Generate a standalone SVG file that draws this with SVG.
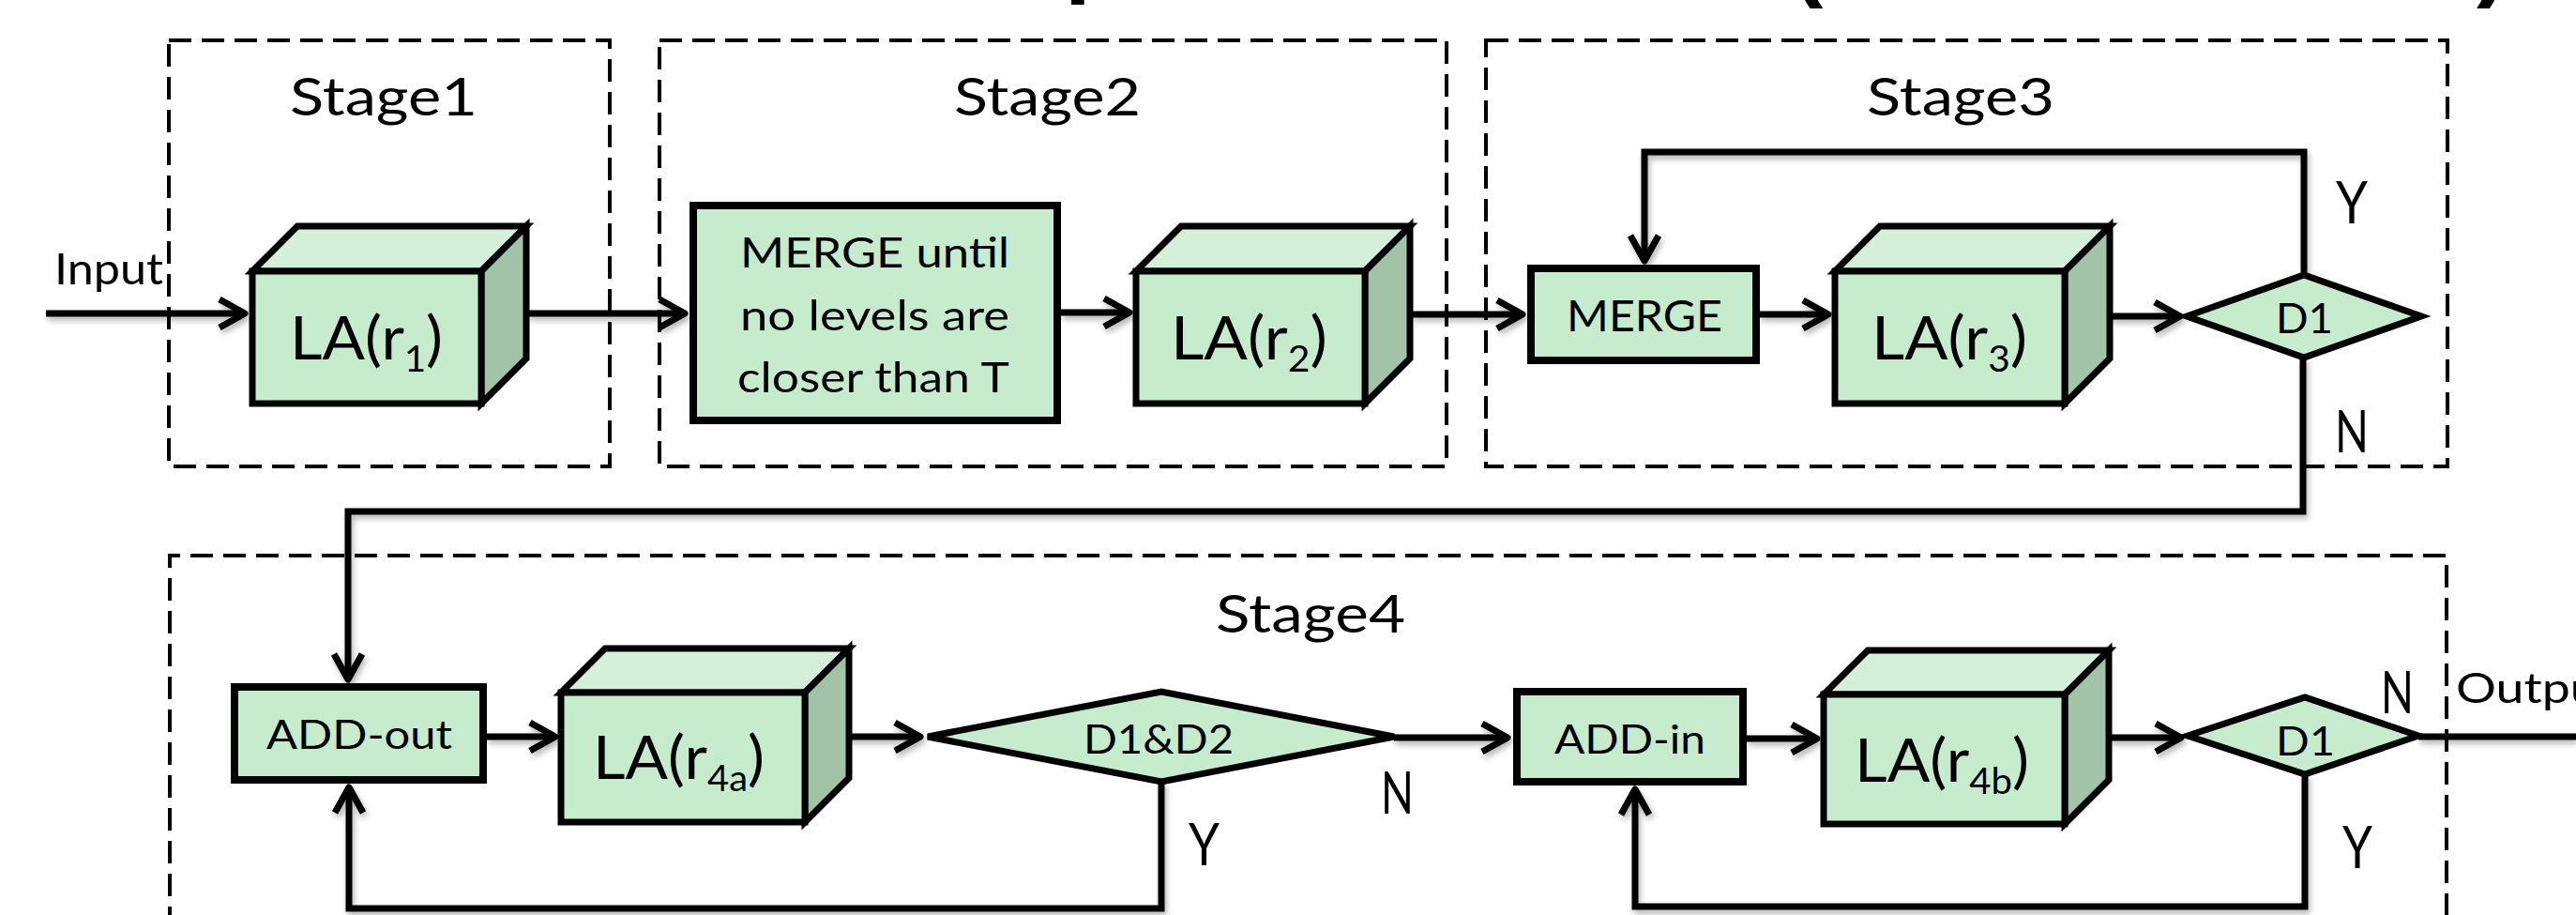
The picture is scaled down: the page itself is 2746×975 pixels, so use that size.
<svg xmlns="http://www.w3.org/2000/svg" width="2746" height="975" viewBox="0 0 2746 975">
  <defs>
    <style>
      .stage { fill: none; stroke: #000; stroke-width: 4; stroke-dasharray: 24 11; }
      .box { fill: #C6EBCD; stroke: #000; stroke-width: 8; }
      .dec { fill: #C6EBCD; stroke: #000; stroke-width: 7; stroke-linejoin: miter; }
      .front { fill: #C6EBCD; stroke: #000; stroke-width: 7; }
      .top { fill: #D4F0DA; stroke: #000; stroke-width: 7; stroke-linejoin: miter; }
      .side { fill: #A2C3A8; stroke: #000; stroke-width: 7; stroke-linejoin: miter; }
      .wire { fill: none; stroke: #000; stroke-width: 7; stroke-linejoin: miter; }
      .t { font-family: Lato, "Liberation Sans", sans-serif; fill: #000; }
      .title { font-family: "Liberation Sans", sans-serif; font-weight: bold; font-size: 100px; fill: #000; }
    </style>
    <marker id="arrow" markerUnits="userSpaceOnUse" viewBox="-34 -20 40 40" refX="0" refY="0" markerWidth="40" markerHeight="40" orient="auto" overflow="visible">
      <path d="M-27,-15 L0,0 L-27,15" fill="none" stroke="#000" stroke-width="7" stroke-linejoin="round" stroke-linecap="butt"/>
    </marker>
    <filter id="shadow" x="-5%" y="-20%" width="110%" height="140%">
      <feDropShadow dx="2" dy="4" stdDeviation="3" flood-color="#000" flood-opacity="0.3"/>
    </filter>
  </defs>

  <rect x="0" y="0" width="2746" height="975" fill="#fff"/>

  <!-- tail ends of the heading above the frame -->
  <text class="title" x="1135" y="-16">p</text>
  <text class="title" x="1910" y="-12">(</text>
  <text class="title" x="2640" y="-12">)</text>

  <!-- stage frames -->
  <g id="stages">
    <g id="stage1">
      <rect class="stage" x="180" y="43" width="470" height="454"/>
      <text class="t" x="309" y="123" font-size="56" textLength="200" lengthAdjust="spacingAndGlyphs">Stage1</text>
    </g>
    <g id="stage2">
      <rect class="stage" x="703" y="43" width="839" height="454"/>
      <text class="t" x="1017" y="123" font-size="56" textLength="199" lengthAdjust="spacingAndGlyphs">Stage2</text>
    </g>
    <g id="stage3">
      <rect class="stage" x="1584" y="43" width="1025" height="454"/>
      <text class="t" x="1990" y="123" font-size="56" textLength="200" lengthAdjust="spacingAndGlyphs">Stage3</text>
    </g>
    <g id="stage4">
      <path class="stage" d="M181,990 V592 H2608 V990"/>
      <text class="t" x="1296" y="674" font-size="56" textLength="202" lengthAdjust="spacingAndGlyphs">Stage4</text>
    </g>
  </g>

  <!-- connectors -->
  <g id="connectors" filter="url(#shadow)">
    <path class="wire" d="M49,334 H261" marker-end="url(#arrow)"/>
    <path class="wire" d="M562,334 H730" marker-end="url(#arrow)"/>
    <path class="wire" d="M1131,333 H1204" marker-end="url(#arrow)"/>
    <path class="wire" d="M1504,335 H1623" marker-end="url(#arrow)"/>
    <path class="wire" d="M1876,335 H1949" marker-end="url(#arrow)"/>
    <path class="wire" d="M2249,337 H2324" marker-end="url(#arrow)"/>
    <path class="wire" d="M2456,293 V162 H1753 V278" marker-end="url(#arrow)"/>
    <path class="wire" d="M2455,381 V545 H371 V724" marker-end="url(#arrow)"/>
    <path class="wire" d="M519,785 H592" marker-end="url(#arrow)"/>
    <path class="wire" d="M904,785 H981" marker-end="url(#arrow)"/>
    <path class="wire" d="M1486,786 H1607" marker-end="url(#arrow)"/>
    <path class="wire" d="M1238,833 V968 H372 V839" marker-end="url(#arrow)"/>
    <path class="wire" d="M1862,787 H1937" marker-end="url(#arrow)"/>
    <path class="wire" d="M2248,786 H2325" marker-end="url(#arrow)"/>
    <path class="wire" d="M2457,825 V966 H1743 V841" marker-end="url(#arrow)"/>
    <path class="wire" d="M2578,785 H2746"/>
  </g>

  <!-- connector labels -->
  <g id="edge-labels">
    <text class="t" x="58" y="303" font-size="46" textLength="116" lengthAdjust="spacingAndGlyphs">Input</text>
    <text class="t" x="2490" y="238" font-size="61" textLength="34" lengthAdjust="spacingAndGlyphs">Y</text>
    <text class="t" x="2489" y="482" font-size="61" textLength="36" lengthAdjust="spacingAndGlyphs">N</text>
    <text class="t" x="1472" y="867" font-size="61" textLength="35" lengthAdjust="spacingAndGlyphs">N</text>
    <text class="t" x="1267" y="922" font-size="61" textLength="33" lengthAdjust="spacingAndGlyphs">Y</text>
    <text class="t" x="2538" y="760" font-size="61" textLength="35" lengthAdjust="spacingAndGlyphs">N</text>
    <text class="t" x="2497" y="925" font-size="61" textLength="32" lengthAdjust="spacingAndGlyphs">Y</text>
    <text class="t" x="2618" y="749" font-size="45" textLength="171" lengthAdjust="spacingAndGlyphs">Output</text>
  </g>

  <!-- stage 1 -->
  <g id="la-r1">
    <path class="top" d="M269,289 L317,241 L561,241 L513,289 Z"/>
    <path class="side" d="M513,289 L561,241 L561,382 L513,430 Z"/>
    <rect class="front" x="269" y="289" width="244" height="141"/>
    <text class="t" x="309" y="383" font-size="64" textLength="163" lengthAdjust="spacingAndGlyphs">LA(r<tspan font-size="38" dy="13">1</tspan><tspan dy="-13">)</tspan></text>
  </g>

  <!-- stage 2 -->
  <g id="merge-until">
    <rect class="box" x="739" y="219" width="388" height="229"/>
    <text class="t" x="789" y="285" font-size="45" textLength="287" lengthAdjust="spacingAndGlyphs">MERGE until</text>
    <text class="t" x="789" y="352" font-size="45" textLength="287" lengthAdjust="spacingAndGlyphs">no levels are</text>
    <text class="t" x="786" y="418" font-size="45" textLength="290" lengthAdjust="spacingAndGlyphs">closer than T</text>
  </g>
  <g id="la-r2">
    <path class="top" d="M1211,289 L1259,241 L1503,241 L1455,289 Z"/>
    <path class="side" d="M1455,289 L1503,241 L1503,382 L1455,430 Z"/>
    <rect class="front" x="1211" y="289" width="244" height="141"/>
    <text class="t" x="1248" y="383" font-size="64" textLength="167" lengthAdjust="spacingAndGlyphs">LA(r<tspan font-size="38" dy="13">2</tspan><tspan dy="-13">)</tspan></text>
  </g>

  <!-- stage 3 -->
  <g id="merge">
    <rect class="box" x="1632" y="286" width="240" height="98"/>
    <text class="t" x="1670" y="353" font-size="46" textLength="166" lengthAdjust="spacingAndGlyphs">MERGE</text>
  </g>
  <g id="la-r3">
    <path class="top" d="M1956,289 L2004,241 L2249,241 L2201,289 Z"/>
    <path class="side" d="M2201,289 L2249,241 L2249,382 L2201,430 Z"/>
    <rect class="front" x="1956" y="289" width="245" height="141"/>
    <text class="t" x="1995" y="383" font-size="64" textLength="166" lengthAdjust="spacingAndGlyphs">LA(r<tspan font-size="38" dy="13">3</tspan><tspan dy="-13">)</tspan></text>
  </g>
  <g id="d1-stage3">
    <polygon class="dec" points="2331,337 2456,293 2581,337 2456,381"/>
    <text class="t" x="2426" y="355" font-size="44" textLength="61" lengthAdjust="spacingAndGlyphs">D1</text>
  </g>

  <!-- stage 4 -->
  <g id="add-out">
    <rect class="box" x="250" y="732" width="265" height="99"/>
    <text class="t" x="284" y="798" font-size="43" textLength="198" lengthAdjust="spacingAndGlyphs">ADD-out</text>
  </g>
  <g id="la-r4a">
    <path class="top" d="M598,738 L645,691 L905,691 L858,738 Z"/>
    <path class="side" d="M858,738 L905,691 L905,829 L858,876 Z"/>
    <rect class="front" x="598" y="738" width="260" height="138"/>
    <text class="t" x="632" y="830" font-size="64" textLength="183" lengthAdjust="spacingAndGlyphs">LA(r<tspan font-size="38" dy="13">4a</tspan><tspan dy="-13">)</tspan></text>
  </g>
  <g id="d1d2">
    <polygon class="dec" points="989,785 1238,737 1486,785 1238,833"/>
    <text class="t" x="1155" y="803" font-size="42" textLength="160" lengthAdjust="spacingAndGlyphs">D1&amp;D2</text>
  </g>
  <g id="add-in">
    <rect class="box" x="1617" y="737" width="241" height="96"/>
    <text class="t" x="1657" y="803" font-size="43" textLength="161" lengthAdjust="spacingAndGlyphs">ADD-in</text>
  </g>
  <g id="la-r4b">
    <path class="top" d="M1944,740 L1991,693 L2248,693 L2201,740 Z"/>
    <path class="side" d="M2201,740 L2248,693 L2248,831 L2201,878 Z"/>
    <rect class="front" x="1944" y="740" width="257" height="138"/>
    <text class="t" x="1977" y="833" font-size="64" textLength="186" lengthAdjust="spacingAndGlyphs">LA(r<tspan font-size="38" dy="13">4b</tspan><tspan dy="-13">)</tspan></text>
  </g>
  <g id="d1-stage4">
    <polygon class="dec" points="2332,784 2457,743 2578,784 2457,825"/>
    <text class="t" x="2426" y="805" font-size="42" textLength="63" lengthAdjust="spacingAndGlyphs">D1</text>
  </g>
</svg>
